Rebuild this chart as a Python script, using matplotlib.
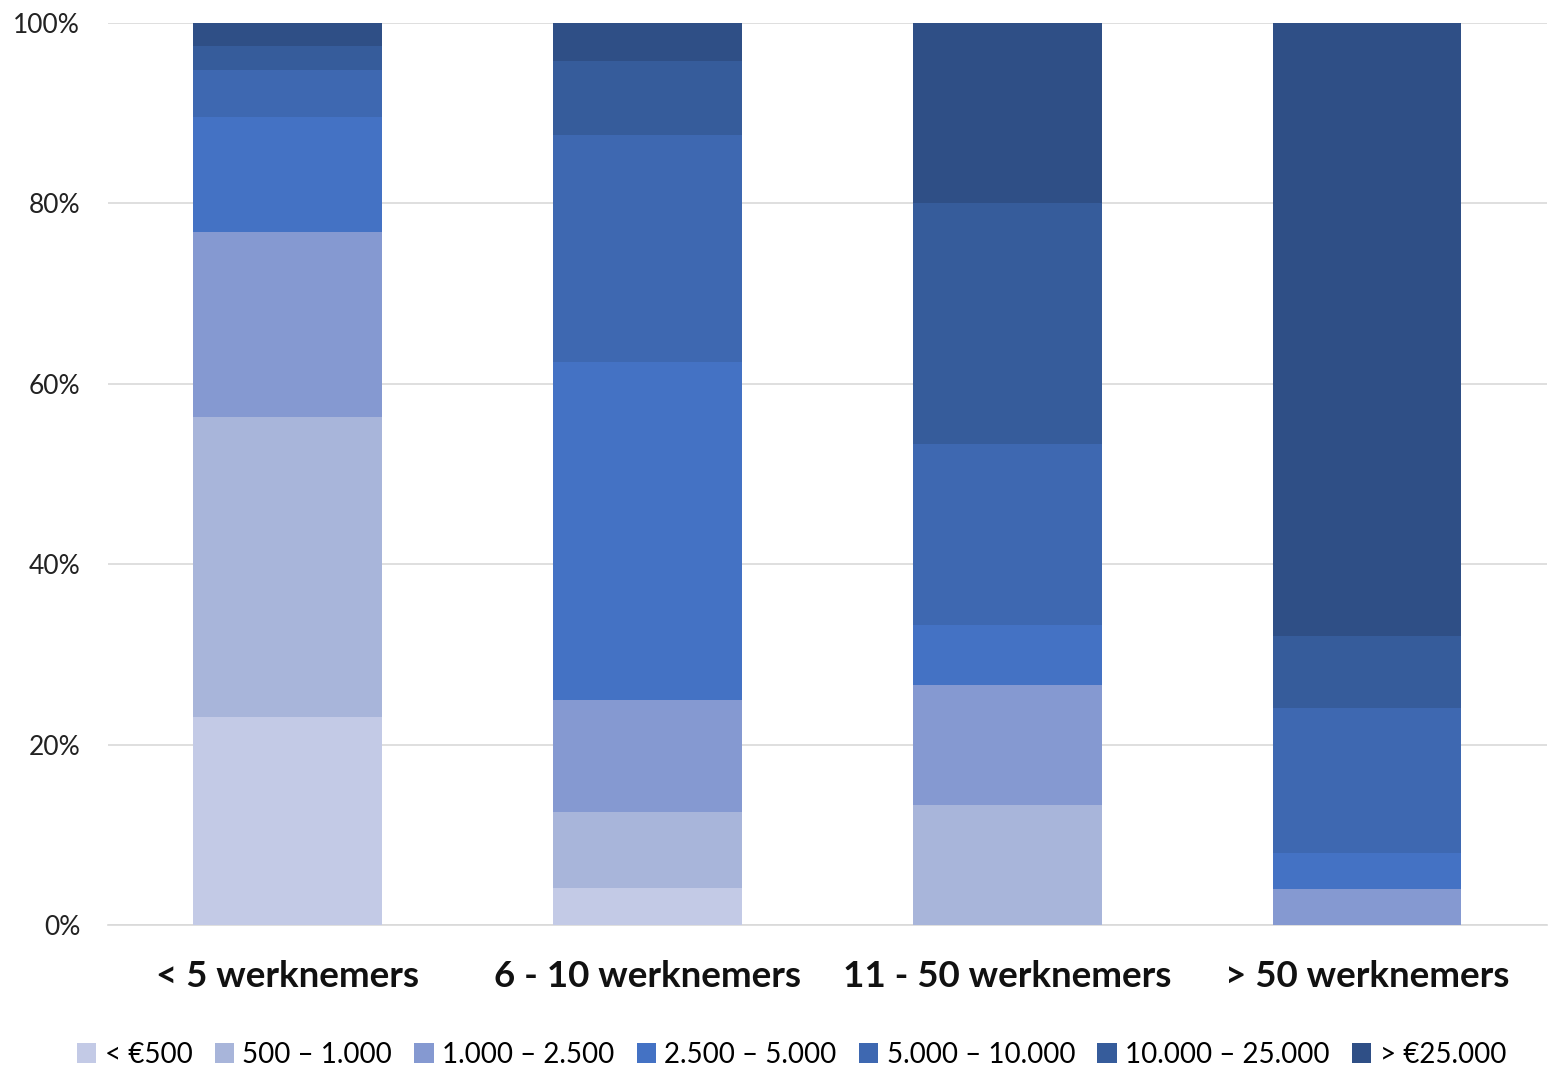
import matplotlib
matplotlib.use('Agg')
import matplotlib.pyplot as plt
import numpy as np

plt.rcParams['font.family'] = ['Lato', 'DejaVu Sans']

categories = ['< 5 werknemers', '6 - 10 werknemers', '11 - 50 werknemers', '> 50 werknemers']
series_names = ['< €500', '500 – 1.000', '1.000 – 2.500', '2.500 – 5.000',
                '5.000 – 10.000', '10.000 – 25.000', '> €25.000']

# share per category (percent), one list per series
lt_500 = [23.0, 4.1, 0.0, 0.0]
s_500_1000 = [33.3, 8.4, 13.3, 0.0]
s_1000_2500 = [20.5, 12.4, 13.3, 4.0]
s_2500_5000 = [12.8, 37.5, 6.7, 4.0]
s_5000_10000 = [5.2, 25.2, 20.0, 16.0]
s_10000_25000 = [2.6, 8.2, 26.7, 8.0]
gt_25000 = [2.6, 4.2, 20.0, 68.0]

series = [lt_500, s_500_1000, s_1000_2500, s_2500_5000,
          s_5000_10000, s_10000_25000, gt_25000]
colors = ['#C3CAE6', '#A8B5DA', '#8599D1', '#4472C4', '#3E68B1', '#365C9B', '#2F4F86']

fig = plt.figure(figsize=(15.5, 10.73), dpi=100)
ax = fig.add_axes([0.0697, 0.138, 0.9283, 0.8406])

x = np.arange(len(categories))
data = np.array(series, dtype=float)
data = data / data.sum(axis=0) * 100
bottom = np.zeros(len(categories))
for vals, name, color in zip(data, series_names, colors):
    ax.bar(x, vals, bottom=bottom, width=0.525, color=color, label=name, zorder=3)
    bottom += vals

ax.set_xlim(-0.5, 3.5)
ax.set_ylim(0, 100)
ax.set_yticks(np.arange(0, 101, 20))
ax.set_yticklabels(['%d%%' % v for v in range(0, 101, 20)], fontsize=19, color='#222222')
ax.set_xticks(x)
ax.set_xticklabels(categories, fontsize=26.5, fontweight='bold', color='#111111')
ax.tick_params(axis='both', length=0)
ax.tick_params(axis='x', pad=25)
ax.tick_params(axis='y', pad=20)
ax.grid(axis='y', color='#D9D9D9', linewidth=1.2, zorder=0)
for side in ['top', 'right', 'left']:
    ax.spines[side].set_visible(False)
ax.spines['bottom'].set_color('#D9D9D9')
ax.spines['bottom'].set_linewidth(1.2)

ax.legend(loc='center', bbox_to_anchor=(0.475, -0.144), ncol=7, frameon=False,
          fontsize=20, handlelength=0.7, handleheight=0.7, handletextpad=0.3,
          columnspacing=0.8)

fig.savefig('out.png', dpi=100)
